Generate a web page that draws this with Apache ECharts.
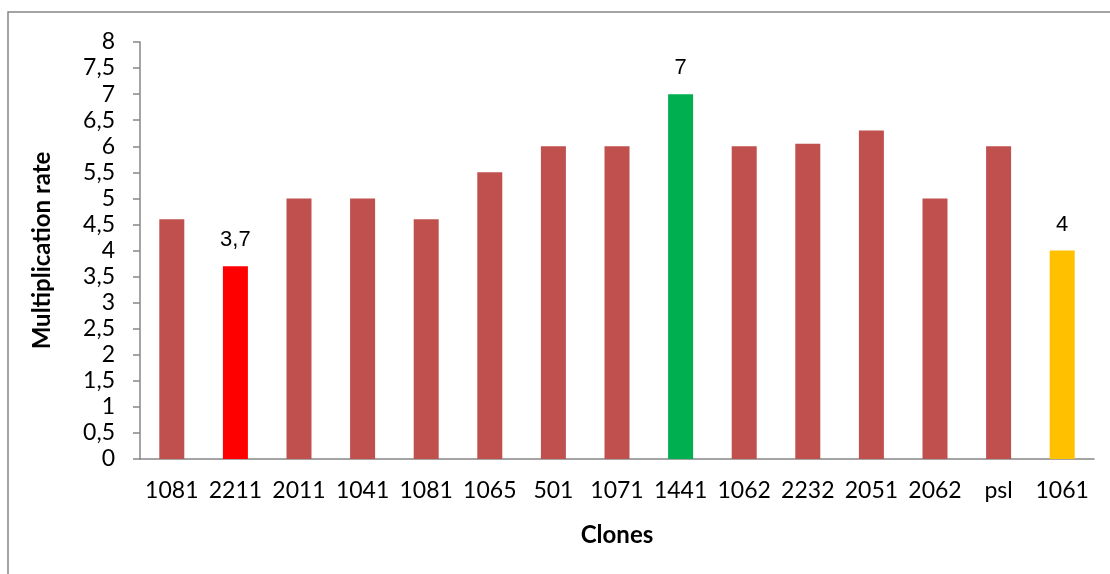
<!DOCTYPE html>
<html>
<head>
<meta charset="utf-8">
<script src="https://cdn.jsdelivr.net/npm/echarts@6/dist/echarts.min.js"></script>
<style>
  html, body { margin: 0; padding: 0; background: #fff; }
  #chart { width: 1110px; height: 574px; }
</style>
</head>
<body>
<div id="chart"></div>
<script>
// Clone names along the x axis
const clones = ['1081', '2211', '2011', '1041', '1081', '1065', '501', '1071', '1441', '1062', '2232', '2051', '2062', 'psl', '1061'];
// Multiplication rate for each clone
const rates = [4.6, 3.7, 5, 5, 4.6, 5.5, 6, 6, 7, 6, 6.05, 6.3, 5, 6, 4];
// Highlighted clones: index -> colour; these also carry a value label
const highlights = { 1: '#FF0000', 8: '#00B050', 14: '#FFC000' };
const baseColor = '#C0504D';

const comma = v => String(v).replace('.', ',');

const seriesData = rates.map((v, i) => {
  const c = highlights[i];
  return {
    value: v,
    itemStyle: { color: c || baseColor },
    label: { show: !!c }
  };
});

const chart = echarts.init(document.getElementById('chart'), null, { renderer: 'canvas' });
chart.setOption({
  backgroundColor: '#ffffff',
  animation: false,
  graphic: [{
    type: 'rect',
    shape: { x: 8, y: 12, width: 1130, height: 600 },
    style: { fill: 'none', stroke: '#868686', lineWidth: 1.5 },
    silent: true
  }],
  grid: { left: 140, right: 16, top: 42, bottom: 115, containLabel: false },
  xAxis: {
    type: 'category',
    data: clones,
    name: 'Clones',
    nameLocation: 'middle',
    nameGap: 64,
    nameTextStyle: { fontFamily: 'Lato', fontWeight: 'bold', fontSize: 24, color: '#000' },
    axisLine: { lineStyle: { color: '#868686', width: 1.5 } },
    axisTick: { show: false },
    axisLabel: { fontFamily: 'Lato', fontSize: 23, color: '#000', margin: 20, interval: 0 },
    splitLine: { show: false }
  },
  yAxis: {
    type: 'value',
    min: 0,
    max: 8,
    interval: 0.5,
    name: 'Multiplication rate',
    nameLocation: 'middle',
    nameGap: 86,
    nameRotate: 90,
    nameTextStyle: { fontFamily: 'Lato', fontWeight: 'bold', fontSize: 24, color: '#000' },
    axisLine: { show: true, lineStyle: { color: '#868686', width: 1.5 } },
    axisTick: { show: true, length: 7, lineStyle: { color: '#868686', width: 1.5 } },
    axisLabel: { fontFamily: 'Lato', fontSize: 23, color: '#000', margin: 25, formatter: comma },
    splitLine: { show: false }
  },
  series: [{
    type: 'bar',
    data: seriesData,
    barWidth: 25,
    label: {
      position: 'top',
      distance: 15,
      fontFamily: 'Liberation Sans',
      fontSize: 22,
      color: '#000',
      formatter: p => comma(p.value)
    }
  }]
});
</script>
</body>
</html>
